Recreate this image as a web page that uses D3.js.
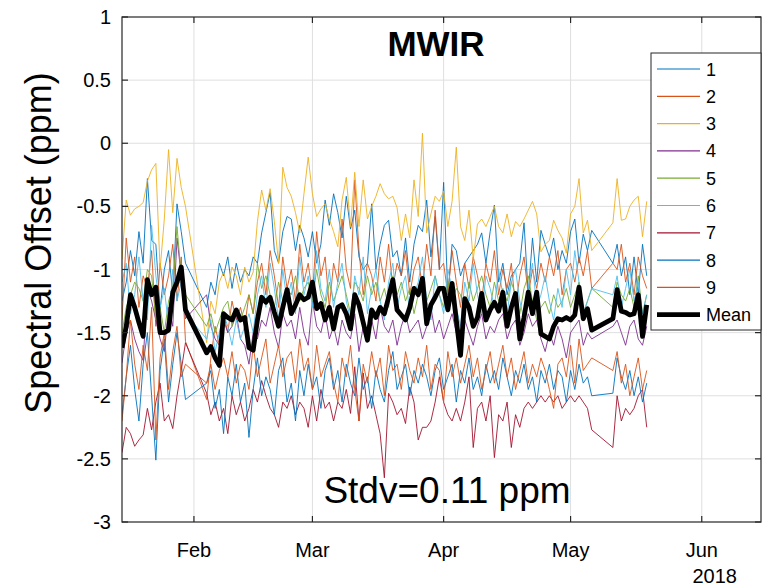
<!DOCTYPE html>
<html>
<head>
<meta charset="utf-8">
<script src="https://cdn.jsdelivr.net/npm/d3@7"></script>
<style>
  body { margin: 0; background: #fff; }
  text { font-family: "Liberation Sans", Arial, Helvetica, sans-serif; fill: #000; }
</style>
</head>
<body>
<svg id="chart" width="763" height="586"></svg>
<script>
// MWIR spectral offset per detector, Jan-May 2018

// observation days (day of year 2018)
const obsDay = [
  15,16,17,18,19,20,21,22,23,24,25,26,27,28,29,30,
  35,36,37,38,39,40,41,42,43,44,45,46,47,48,49,50,51,52,53,54,
  55,56,57,58,59,60,61,62,63,64,65,66,67,68,69,70,71,72,73,74,
  75,76,77,78,79,80,81,82,83,84,85,86,87,88,89,90,91,92,93,94,
  95,96,97,98,99,100,101,102,103,104,105,106,107,108,109,110,111,112,113,114,
  115,116,117,118,119,120,121,122,123,124,125,126,
  131,132,133,134,135,136,137,138,139
];

const s1 = [
  -1.25,-1.10,-0.85,-1.05,-0.70,-0.95,-0.28,-0.77,-0.80,-1.32,-1.00,-0.85,-1.20,-0.48,-0.70,-0.95,
  -1.30,-1.10,-1.20,-0.95,-1.05,-0.90,-1.15,-0.95,-1.10,-1.00,
  -1.05,-0.90,-0.95,-0.71,-0.55,-0.39,-0.85,-0.95,-0.70,-0.58,
  -0.60,-0.85,-0.65,-0.75,-0.90,-0.70,-0.95,-0.80,-0.45,-0.65,
  -0.40,-0.55,-0.75,-0.42,-0.68,-0.53,-0.90,-1.00,-0.95,-0.48,
  -1.00,-0.80,-0.65,-0.61,-0.90,-0.85,-1.05,-0.75,-1.10,-0.80,
  -0.65,-0.70,-0.45,-0.90,-0.58,-1.00,-0.31,-1.20,-0.80,-0.85,
  -1.05,-0.95,-0.90,-0.85,-0.80,-0.71,-0.95,-0.70,-0.49,-1.10,
  -0.95,-1.20,-1.05,-1.00,-0.95,-0.63,-1.20,-0.75,-1.10,-0.69,
  -0.80,-0.90,-0.75,-1.00,-0.85,-0.95,-0.70,-0.60,-0.95,-0.72,-0.85,-0.69,
  -0.95,-0.80,-1.05,-0.90,-1.20,-0.90,-1.20,-0.80,-1.05
];
const s2 = [
  -1.40,-0.75,-1.10,-0.90,-1.30,-1.05,-1.15,-0.85,-1.45,-0.95,-1.20,-1.05,-0.80,-1.25,-0.90,-1.57,
  -2.03,-1.70,-1.45,-1.60,-1.35,-1.50,-1.25,-1.40,-1.30,-1.45,
  -1.20,-1.35,-1.10,-0.95,-1.20,-0.85,-1.05,-1.30,-0.90,-1.15,
  -1.00,-1.25,-0.80,-1.10,-0.95,-1.20,-0.70,-1.05,-0.90,-1.30,
  -0.95,-1.10,-0.60,-1.00,-1.15,-0.29,-0.85,-1.20,-0.95,-1.05,
  -1.25,-0.90,-1.10,-0.80,-1.15,-0.95,-1.05,-0.85,-1.20,-1.00,
  -0.90,-1.15,-0.80,-1.05,-0.53,-1.00,-0.95,-1.20,-0.85,-1.10,
  -1.30,-0.95,-1.15,-0.90,-1.05,-1.25,-0.95,-1.10,-0.85,-1.20,
  -1.00,-1.15,-0.95,-1.30,-1.05,-0.90,-1.20,-1.00,-1.15,-0.95,
  -1.10,-0.90,-1.05,-0.85,-1.20,-1.00,-0.95,-1.10,-0.90,-1.05,-0.85,-1.15,
  -0.95,-1.00,-0.80,-1.10,-0.95,-1.20,-0.90,-1.05,-1.15
];
const s3 = [
  -0.92,-0.45,-0.57,-0.52,-0.50,-0.47,-0.30,-0.21,-0.16,-1.00,-0.60,-0.05,-0.55,-0.12,-0.35,-0.50,
  -1.58,-1.25,-1.35,-1.10,-1.02,-1.15,-0.98,-1.05,-1.20,-0.98,
  -1.10,-1.02,-0.62,-0.37,-0.53,-0.36,-0.62,-0.95,-0.19,-0.35,
  -0.42,-0.55,-0.71,-0.40,-0.11,-0.40,-0.58,-0.52,-0.48,-0.60,
  -0.70,-0.82,-0.45,-0.27,-0.66,-0.23,-0.66,-0.29,-0.60,-0.50,
  -0.42,-0.32,-0.40,-0.44,-0.42,-0.51,-0.77,-0.56,-0.75,-0.29,
  -0.58,0.08,-0.71,-0.56,-0.42,-0.46,-0.38,-0.66,-0.46,-0.03,
  -0.66,-0.77,-0.53,-0.92,-0.64,-0.60,-0.66,-0.58,-0.50,-0.66,
  -0.71,-0.56,-0.74,-0.62,-0.66,-0.60,-0.53,-0.46,-0.56,-0.86,
  -0.80,-0.77,-0.61,-0.69,-0.75,-0.87,-0.56,-0.50,-0.28,-0.71,-0.61,-0.85,
  -0.63,-0.28,-0.61,-0.60,-0.50,-0.45,-0.42,-0.74,-0.46
];
const s4 = [
  -1.74,-1.50,-1.40,-1.55,-1.65,-1.72,-1.15,-1.25,-1.40,-1.55,-1.65,-1.30,-1.45,-0.75,-1.05,-1.39,
  -1.20,-1.45,-1.55,-1.60,-1.40,-1.50,-1.45,-1.35,-1.55,-1.60,
  -1.75,-1.50,-1.55,-1.40,-1.45,-1.30,-1.50,-1.62,-1.35,-1.45,
  -1.40,-1.55,-1.30,-1.50,-1.60,-1.25,-1.45,-1.50,-1.35,-1.55,
  -1.45,-1.60,-1.40,-1.50,-1.55,-1.35,-1.65,-1.45,-1.50,-1.40,
  -1.55,-1.30,-1.45,-1.50,-1.40,-1.60,-1.45,-1.35,-1.50,-1.45,
  -1.40,-1.55,-1.45,-1.30,-1.50,-1.40,-1.55,-1.45,-1.35,-1.50,
  -1.65,-1.40,-1.50,-1.60,-1.45,-1.35,-1.55,-1.45,-1.50,-1.40,
  -1.35,-1.55,-1.45,-1.40,-1.60,-1.50,-1.35,-1.45,-1.40,-1.55,
  -1.65,-1.50,-1.60,-1.45,-1.55,-1.70,-1.50,-1.45,-1.40,-1.60,-1.50,-1.55,
  -1.45,-1.40,-1.50,-1.60,-1.45,-1.40,-1.55,-1.60,-1.45
];
const s5 = [
  -1.50,-1.30,-1.20,-1.10,-1.15,-1.25,-1.00,-1.05,-1.40,-1.30,-1.50,-1.25,-1.15,-0.66,-1.05,-1.20,
  -1.45,-1.35,-1.50,-1.40,-1.30,-1.25,-1.45,-1.35,-1.40,-1.30,
  -1.20,-1.35,-0.95,-1.15,-1.05,-1.20,-1.30,-1.10,-1.25,-1.15,
  -1.20,-1.05,-1.25,-1.15,-1.10,-1.25,-1.00,-1.20,-1.30,-1.10,
  -1.25,-1.15,-1.05,-1.20,-1.35,-1.10,-1.15,-1.25,-1.05,-1.20,
  -1.10,-1.25,-1.15,-1.30,-1.05,-1.20,-1.10,-1.25,-1.15,-1.35,
  -1.20,-1.10,-1.25,-1.15,-1.05,-1.20,-1.30,-1.10,-1.25,-1.15,
  -1.20,-1.35,-1.10,-1.25,-1.15,-1.05,-1.20,-1.30,-1.10,-1.25,
  -1.15,-1.25,-1.10,-1.20,-1.35,-1.15,-1.05,-1.25,-1.40,-1.30,
  -1.25,-1.35,-1.20,-1.30,-1.25,-1.15,-1.30,-1.20,-1.10,-1.35,-1.25,-1.15,
  -1.30,-1.10,-1.20,-1.25,-1.15,-1.30,-1.05,-1.35,-1.20
];
const s6 = [
  -1.10,-0.95,-1.35,-1.20,-0.90,-1.25,-1.40,-0.65,-1.05,-1.30,-1.15,-1.45,-1.00,-1.25,-1.10,-1.35,
  -1.55,-1.40,-1.65,-1.50,-1.35,-1.45,-1.60,-1.40,-1.55,-1.45,
  -1.35,-1.50,-1.20,-1.05,-1.30,-0.95,-1.15,-1.40,-1.00,-1.25,
  -1.10,-1.35,-0.90,-1.20,-1.05,-1.30,-0.85,-1.15,-1.25,-1.00,
  -1.30,-1.10,-0.95,-1.25,-1.40,-1.05,-1.20,-0.90,-1.35,-1.15,
  -1.00,-1.25,-1.40,-1.10,-0.95,-1.30,-1.15,-1.05,-1.35,-1.20,
  -1.10,-0.90,-1.25,-1.40,-1.05,-1.20,-1.35,-1.00,-1.15,-1.30,
  -1.45,-1.10,-1.25,-0.95,-1.20,-1.35,-1.05,-1.15,-1.30,-1.00,
  -1.20,-1.35,-1.10,-1.00,-1.25,-1.40,-1.15,-0.95,-1.30,-1.20,
  -1.05,-1.25,-1.40,-1.15,-1.30,-1.00,-1.20,-0.85,-1.10,-1.35,-1.25,-1.15,
  -1.20,-1.05,-1.30,-1.15,-1.00,-1.25,-1.10,-1.35,-1.20
];
const s7 = [
  -2.45,-2.25,-2.30,-2.40,-2.35,-2.31,-2.10,-2.27,-2.05,-1.90,-2.20,-2.15,-2.26,-2.00,-1.80,-1.58,
  -1.98,-2.15,-2.05,-2.20,-2.10,-2.30,-2.00,-2.15,-2.05,-2.20,
  -2.10,-1.95,-2.05,-1.88,-2.00,-2.10,-2.15,-2.25,-2.05,-2.10,
  -2.00,-2.15,-2.05,-2.10,-2.25,-2.00,-2.20,-1.95,-2.10,-2.05,
  -2.20,-2.05,-2.10,-1.95,-2.14,-1.77,-2.20,-1.82,-2.10,-2.00,
  -2.15,-2.30,-2.65,-1.98,-2.05,-2.15,-2.10,-2.22,-1.93,-2.05,
  -2.35,-2.25,-2.25,-2.20,-2.05,-1.85,-2.05,-2.15,-2.20,-2.10,
  -2.20,-2.05,-1.85,-2.41,-2.10,-2.05,-2.20,-2.00,-2.49,-2.15,
  -2.20,-2.05,-2.41,-2.15,-2.25,-2.10,-2.05,-2.10,-2.05,-2.00,
  -2.05,-2.00,-2.05,-2.00,-2.10,-2.05,-2.00,-2.05,-2.00,-2.05,-2.10,-2.27,
  -2.41,-2.00,-2.20,-2.10,-2.15,-2.10,-2.00,-1.95,-2.25
];
const s8 = [
  -2.15,-1.85,-1.60,-1.95,-2.20,-1.75,-1.50,-2.00,-2.51,-1.80,-1.55,-2.05,-1.75,-1.50,-1.75,-2.03,
  -1.90,-1.80,-2.10,-1.95,-2.30,-1.85,-2.00,-1.75,-2.05,-1.90,
  -2.33,-1.95,-1.70,-2.00,-1.85,-1.95,-2.15,-1.80,-1.70,-2.05,
  -1.90,-2.20,-1.80,-2.00,-1.75,-1.95,-1.85,-2.10,-1.80,-1.70,
  -1.95,-1.80,-2.05,-1.75,-1.90,-2.00,-1.70,-1.95,-1.85,-2.10,
  -1.80,-1.95,-2.05,-1.80,-1.65,-1.95,-1.85,-1.75,-2.00,-1.80,
  -1.90,-1.75,-1.85,-2.00,-1.80,-1.70,-1.95,-1.85,-1.75,-2.05,
  -1.80,-1.90,-1.70,-1.95,-1.85,-2.00,-1.75,-1.90,-1.80,-1.95,
  -1.70,-1.85,-2.00,-1.80,-1.90,-1.75,-1.95,-1.85,-2.05,-1.80,
  -1.90,-1.75,-1.95,-1.80,-1.85,-2.05,-1.80,-1.95,-1.75,-1.90,-1.85,-2.00,
  -1.98,-1.70,-1.85,-1.95,-1.80,-2.00,-1.85,-2.05,-1.90
];
const s9 = [
  -2.20,-1.85,-1.40,-1.75,-1.95,-1.60,-1.80,-1.30,-2.35,-1.70,-1.50,-1.95,-1.65,-1.45,-1.85,-1.75,
  -1.90,-1.75,-1.95,-1.80,-1.70,-1.85,-1.65,-1.90,-1.75,-1.80,
  -1.95,-1.60,-1.85,-1.70,-1.55,-1.90,-1.75,-1.60,-1.85,-1.70,
  -1.65,-1.90,-1.55,-1.80,-1.70,-1.95,-1.60,-1.85,-1.75,-1.65,
  -1.90,-2.05,-1.70,-1.85,-1.60,-1.95,-2.20,-1.75,-1.90,-1.65,
  -1.85,-1.70,-2.00,-1.60,-1.80,-1.75,-1.95,-1.65,-1.80,-1.90,
  -1.70,-1.85,-1.60,-1.95,-1.75,-1.80,-2.05,-1.65,-1.85,-1.70,
  -1.90,-1.75,-1.60,-1.85,-1.70,-1.95,-1.80,-1.65,-1.90,-1.75,
  -1.60,-1.85,-1.70,-1.95,-1.80,-1.65,-1.90,-1.75,-1.85,-1.70,
  -1.80,-1.95,-2.10,-1.75,-1.70,-1.85,-1.60,-1.90,-1.55,-1.80,-1.75,-1.70,
  -1.80,-1.65,-1.90,-1.75,-2.00,-1.85,-1.70,-1.95,-1.80
];
const meanVals = [
  -1.62,-1.45,-1.20,-1.30,-1.42,-1.53,-1.08,-1.20,-1.14,-1.50,-1.50,-1.48,-1.18,-1.10,-0.98,-1.32,
  -1.66,-1.61,-1.70,-1.76,-1.35,-1.38,-1.40,-1.32,-1.40,-1.38,
  -1.62,-1.64,-1.40,-1.22,-1.26,-1.22,-1.34,-1.45,-1.30,-1.16,
  -1.35,-1.28,-1.20,-1.24,-1.22,-1.10,-1.31,-1.27,-1.40,-1.30,
  -1.47,-1.30,-1.28,-1.35,-1.47,-1.20,-1.28,-1.42,-1.56,-1.32,
  -1.38,-1.30,-1.35,-1.22,-1.08,-1.32,-1.36,-1.40,-1.30,-1.15,
  -1.20,-1.07,-1.43,-1.28,-1.22,-1.15,-1.15,-1.32,-1.11,-1.40,
  -1.68,-1.23,-1.30,-1.45,-1.38,-1.19,-1.40,-1.32,-1.26,-1.33,
  -1.18,-1.45,-1.30,-1.19,-1.55,-1.38,-1.18,-1.35,-1.18,-1.51,
  -1.53,-1.55,-1.45,-1.39,-1.40,-1.38,-1.40,-1.36,-1.14,-1.39,-1.31,-1.48,
  -1.39,-1.16,-1.33,-1.34,-1.36,-1.35,-1.20,-1.53,-1.28
];

const seriesNames = ['1', '2', '3', '4', '5', '6', '7', '8', '9'];
const seriesVals = [s1, s2, s3, s4, s5, s6, s7, s8, s9];
const seriesColors = ['#0072BD', '#D95319', '#EDB120', '#7E2F8E', '#77AC30',
                      '#4DBEEE', '#A2142F', '#0072BD', '#D95319'];

const yTicks = [-3, -2.5, -2, -1.5, -1, -0.5, 0, 0.5, 1];
const monthTicks = [new Date(2018, 1, 1), new Date(2018, 2, 1), new Date(2018, 3, 1),
                    new Date(2018, 4, 1), new Date(2018, 5, 1)];
const monthLabels = ['Feb', 'Mar', 'Apr', 'May', 'Jun'];
const yearLabel = '2018';
const titleText = 'MWIR';
const yLabelText = 'Spectral Offset (ppm)';
const noteText = 'Stdv=0.11 ppm';

// axes box
const axL = 122, axR = 761, axT = 17, axB = 522;
const axisColor = '#262626';
const gridColor = '#dfdfdf';

const svg = d3.select('#chart');

const x = d3.scaleTime()
  .domain([new Date(2018, 0, 15), new Date(2018, 5, 15)])
  .range([axL, axR]);
const y = d3.scaleLinear().domain([-3, 1]).range([axB, axT]);

const dates = obsDay.map(d => new Date(2018, 0, d));

svg.append('rect')
  .attr('x', axL).attr('y', axT)
  .attr('width', axR - axL).attr('height', axB - axT)
  .attr('fill', '#fff');

// grid
svg.append('g').selectAll('line')
  .data(yTicks.slice(1, -1))
  .enter().append('line')
  .attr('x1', axL).attr('x2', axR)
  .attr('y1', d => y(d)).attr('y2', d => y(d))
  .attr('stroke', gridColor).attr('stroke-width', 1);

svg.append('g').selectAll('line')
  .data(monthTicks)
  .enter().append('line')
  .attr('x1', d => x(d)).attr('x2', d => x(d))
  .attr('y1', axT).attr('y2', axB)
  .attr('stroke', gridColor).attr('stroke-width', 1);

svg.append('clipPath').attr('id', 'plotclip')
  .append('rect')
  .attr('x', axL).attr('y', axT)
  .attr('width', axR - axL).attr('height', axB - axT);

const line = d3.line()
  .x((d, i) => x(dates[i]))
  .y(d => y(d));

const plot = svg.append('g').attr('clip-path', 'url(#plotclip)');

seriesVals.forEach((vals, k) => {
  plot.append('path')
    .attr('d', line(vals))
    .attr('fill', 'none')
    .attr('stroke', seriesColors[k])
    .attr('stroke-width', 0.9)
    .attr('stroke-linejoin', 'round');
});

plot.append('path')
  .attr('d', line(meanVals))
  .attr('fill', 'none')
  .attr('stroke', '#000')
  .attr('stroke-width', 4.8)
  .attr('stroke-linejoin', 'round');

// axes frame and ticks
const tickLen = 6;
const axes = svg.append('g').attr('stroke', axisColor).attr('stroke-width', 1.2);

axes.append('rect')
  .attr('x', axL).attr('y', axT)
  .attr('width', axR - axL).attr('height', axB - axT)
  .attr('fill', 'none');

yTicks.forEach(t => {
  axes.append('line').attr('x1', axL).attr('x2', axL + tickLen)
    .attr('y1', y(t)).attr('y2', y(t));
  axes.append('line').attr('x1', axR).attr('x2', axR - tickLen)
    .attr('y1', y(t)).attr('y2', y(t));
});
monthTicks.forEach(t => {
  axes.append('line').attr('x1', x(t)).attr('x2', x(t))
    .attr('y1', axB).attr('y2', axB - tickLen);
  axes.append('line').attr('x1', x(t)).attr('x2', x(t))
    .attr('y1', axT).attr('y2', axT + tickLen);
});

// tick labels
svg.append('g').selectAll('text')
  .data(yTicks)
  .enter().append('text')
  .attr('x', axL - 11)
  .attr('y', d => y(d) + 7)
  .attr('text-anchor', 'end')
  .style('font-size', '20px')
  .text(d => String(d));

svg.append('g').selectAll('text')
  .data(monthTicks)
  .enter().append('text')
  .attr('x', d => x(d))
  .attr('y', 557)
  .attr('text-anchor', 'middle')
  .style('font-size', '20px')
  .text((d, i) => monthLabels[i]);

svg.append('text')
  .attr('x', x(monthTicks[4]) + 13)
  .attr('y', 583)
  .attr('text-anchor', 'middle')
  .style('font-size', '20px')
  .text(yearLabel);

// y label
svg.append('text')
  .attr('transform', 'translate(51,243) rotate(-90)')
  .attr('text-anchor', 'middle')
  .style('font-size', '36px')
  .text(yLabelText);

// title
svg.append('text')
  .attr('x', 436).attr('y', 56)
  .attr('text-anchor', 'middle')
  .style('font-size', '35px')
  .style('font-weight', 'bold')
  .text(titleText);

// stdv note
svg.append('text')
  .attr('x', 447).attr('y', 503)
  .attr('text-anchor', 'middle')
  .style('font-size', '37px')
  .text(noteText);

// legend
const legX = 651, legY = 53, legW = 110, legH = 277;
const leg = svg.append('g');
leg.append('rect')
  .attr('x', legX).attr('y', legY)
  .attr('width', legW).attr('height', legH)
  .attr('fill', '#fff')
  .attr('stroke', axisColor).attr('stroke-width', 1);

const legItems = seriesNames.map((n, i) => ({ name: n, color: seriesColors[i], w: 1.2 }))
  .concat([{ name: 'Mean', color: '#000', w: 4.8 }]);

legItems.forEach((d, i) => {
  const cy = 69 + i * 27.3;
  leg.append('line')
    .attr('x1', legX + 6).attr('x2', legX + 49)
    .attr('y1', cy).attr('y2', cy)
    .attr('stroke', d.color).attr('stroke-width', d.w);
  leg.append('text')
    .attr('x', legX + 55).attr('y', cy + 6.5)
    .style('font-size', '18px')
    .text(d.name);
});
</script>
</body>
</html>
